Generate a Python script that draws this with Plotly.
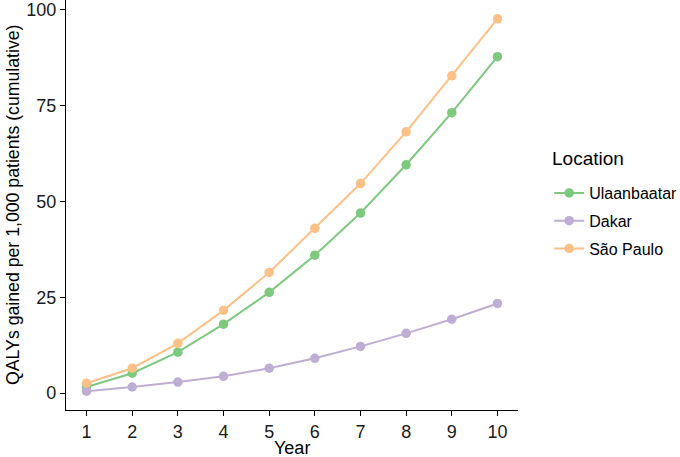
import plotly.graph_objects as go

years = [1, 2, 3, 4, 5, 6, 7, 8, 9, 10]
ulaanbaatar = [1.6, 5.2, 10.7, 18.0, 26.3, 36.0, 47.0, 59.6, 73.2, 87.8]
dakar = [0.5, 1.6, 2.9, 4.4, 6.5, 9.1, 12.2, 15.6, 19.3, 23.4]
sao_paulo = [2.6, 6.5, 13.0, 21.6, 31.5, 43.0, 54.7, 68.2, 82.8, 97.7]

series = [
    ("Ulaanbaatar", ulaanbaatar, "#7fc97f"),
    ("Dakar", dakar, "#beaed4"),
    ("São Paulo", sao_paulo, "#fdc086"),
]

fig = go.Figure()
for name, vals, col in series:
    fig.add_trace(go.Scatter(
        x=years, y=vals, name=name, mode="lines+markers", legendgroup=name,
        line=dict(color=col, width=2),
        marker=dict(color=col, size=9.5),
    ))

font = "Liberation Sans, Arial, sans-serif"
fig.update_layout(
    width=680, height=457,
    margin=dict(l=66, r=162, t=0, b=47, autoexpand=False),
    plot_bgcolor="white", paper_bgcolor="white",
    font=dict(family=font, size=18, color="black"),
    legend=dict(
        x=1.069, xanchor="left", y=1 - 176 / 410, yanchor="top",
        font=dict(size=16), tracegroupgap=4,
    ),
    xaxis=dict(
        range=[0.55, 10.45], tickvals=years, showgrid=False, zeroline=False,
        showline=True, linecolor="black", linewidth=1.2, automargin=False,
        ticks="outside", ticklen=5, tickcolor="black",
        tickfont=dict(size=18, color="#1a1a1a"),
    ),
    yaxis=dict(
        range=[-4.4, 102.6], tickvals=[0, 25, 50, 75, 100], showgrid=False, zeroline=False,
        showline=True, linecolor="black", linewidth=1.2, automargin=False,
        ticks="outside", ticklen=5, tickcolor="black",
        tickfont=dict(size=18, color="#1a1a1a"),
    ),
    annotations=[
        dict(text="Year", xref="paper", yref="paper", x=0.5, y=-(448 - 410) / 410,
             xanchor="center", yanchor="middle", showarrow=False, font=dict(size=18)),
        dict(text="QALYs gained per 1,000 patients (cumulative)", xref="paper", yref="paper",
             x=-(66 - 13) / 452, y=0.5, textangle=-90, xanchor="center", yanchor="middle",
             showarrow=False, font=dict(size=17.7)),
        dict(text="Location", xref="paper", yref="paper", x=(550 - 66) / 452, y=1 - 158 / 410,
             xanchor="left", yanchor="middle", showarrow=False, font=dict(size=19)),
    ],
)
fig.write_html("out.html", config={"displayModeBar": False},
               post_script="document.body.style.margin='0';")
